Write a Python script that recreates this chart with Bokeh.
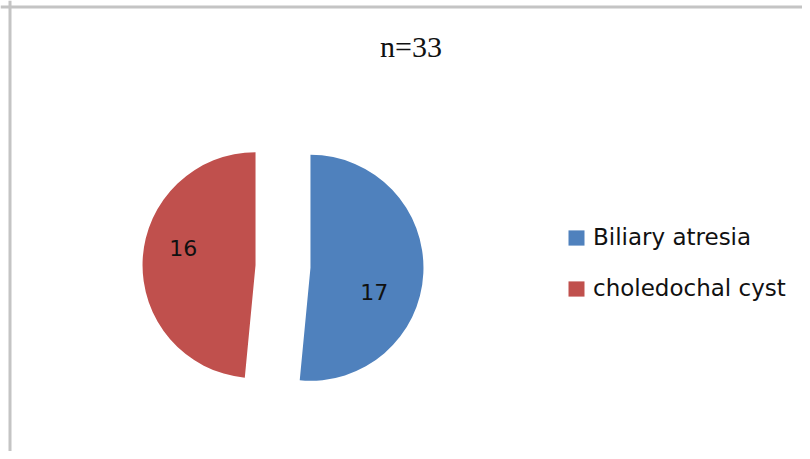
import math
from bokeh.plotting import figure
from bokeh.models import (ColumnDataSource, Range1d, Legend, LegendItem, Label, Span)
from bokeh.core.properties import value
from bokeh.embed import file_html
from bokeh.resources import INLINE

# ---- data ----
categories = ["Biliary atresia", "choledochal cyst"]
counts = [17, 16]
colors = ["#4F81BD", "#C0504D"]
title_text = "n=33"

# ---- layout / style ----
W, H = 802, 451
pie_cx, pie_cy = 282.5, 185.0
radius = 113.0
explode = 27.5
label_frac = 0.58
label_r = 0.63

total = sum(counts)
starts, ends, xs, ys, lx, ly, labels = [], [], [], [], [], [], []
a = math.pi / 2
for c in counts:
    span = 2 * math.pi * c / total
    s, e = a, a - span
    mid = (s + e) / 2
    cx = pie_cx + explode * math.cos(mid)
    cy = pie_cy + explode * math.sin(mid)
    la = s - label_frac * span
    starts.append(s); ends.append(e); xs.append(cx); ys.append(cy)
    lx.append(cx + label_r * radius * math.cos(la))
    ly.append(cy + label_r * radius * math.sin(la))
    labels.append(str(c))
    a = e

src = ColumnDataSource(dict(x=xs, y=ys, start=starts, end=ends, color=colors,
                            cat=categories, lx=lx, ly=ly, label=labels))

p = figure(width=W, height=H, output_backend="svg", toolbar_location=None,
           x_range=Range1d(0, W), y_range=Range1d(0, H), min_border=0,
           background_fill_color="white", border_fill_color="white")
p.axis.visible = False
p.grid.visible = False
p.outline_line_color = None

r = p.wedge(x="x", y="y", radius=radius, start_angle="start", end_angle="end",
            direction="clock", fill_color="color", line_color=None, source=src)
p.text(x="lx", y="ly", text="label", source=src, text_align="center",
       text_baseline="middle", text_font=value("DejaVu Sans"),
       text_font_size="22px", text_color="#111111", x_offset=-4, y_offset=3)

p.add_layout(Label(x=410.5, y=405, text=title_text, text_align="center",
                   text_baseline="alphabetic", text_font="Liberation Serif",
                   text_font_size="30px", text_color="#111111"))

p.add_layout(Span(location=9.5, dimension="height", line_color="#C4C4C4", line_width=3))
p.add_layout(Span(location=444.5, dimension="width", line_color="#C4C4C4", line_width=3))

legend = Legend(items=[LegendItem(label=categories[i], renderers=[r], index=i)
                       for i in range(len(categories))],
                location=(566, 150), orientation="vertical")
legend.label_text_font = "DejaVu Sans"
legend.label_text_font_size = "23px"
legend.label_text_color = "#111111"
legend.glyph_width = 20
legend.glyph_height = 19
legend.label_standoff = 7
legend.spacing = 25
legend.padding = 0
legend.margin = 0
legend.border_line_color = None
legend.background_fill_color = None
p.add_layout(legend, "center")

open("out.html", "w").write(file_html(p, INLINE))
